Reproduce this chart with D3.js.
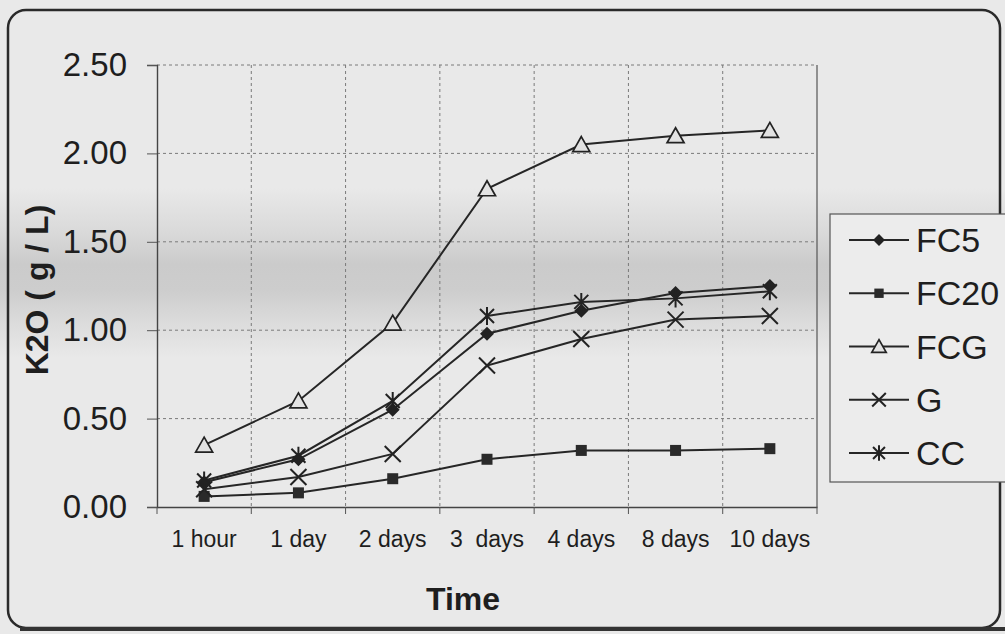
<!DOCTYPE html>
<html><head><meta charset="utf-8">
<script src="https://cdn.jsdelivr.net/npm/d3@7"></script>
<style>
html,body{margin:0;padding:0;background:#e9e9e9;}
svg{display:block;font-family:"Liberation Sans",Arial,sans-serif;}
</style></head>
<body>
<svg id="chart" width="1005" height="634"></svg>
<script>
const categories = ["1 hour","1 day","2 days","3  days","4 days","8 days","10 days"];
const FC5  = [0.14, 0.27, 0.55, 0.98, 1.11, 1.21, 1.25];
const FC20 = [0.06, 0.08, 0.16, 0.27, 0.32, 0.32, 0.33];
const FCG  = [0.35, 0.60, 1.04, 1.80, 2.05, 2.10, 2.13];
const G    = [0.10, 0.17, 0.30, 0.80, 0.95, 1.06, 1.08];
const CC   = [0.15, 0.29, 0.60, 1.08, 1.16, 1.18, 1.22];
const seriesNames = ["FC5","FC20","FCG","G","CC"];
const yTicks = [0, 0.5, 1.0, 1.5, 2.0, 2.5];
const yTitle = "K2O ( g / L)";
const xTitle = "Time";

(function(){
const series = [
  {name:"FC5", values:FC5, marker:"diamond"},
  {name:"FC20", values:FC20, marker:"square"},
  {name:"FCG", values:FCG, marker:"triangle"},
  {name:"G", values:G, marker:"x"},
  {name:"CC", values:CC, marker:"asterisk"}
];

const svg = d3.select("#chart");
const defs = svg.append("defs");
const grad = defs.append("linearGradient").attr("id","band").attr("x1",0).attr("y1",0).attr("x2",0).attr("y2",1);
[[0,"#e9e9e9"],[0.25,"#dadada"],[0.45,"#cbcbcb"],[0.6,"#cdcdcd"],[0.8,"#dcdcdc"],[1,"#e9e9e9"]]
  .forEach(([o,c])=>grad.append("stop").attr("offset",o).attr("stop-color",c));

svg.append("rect").attr("width",1005).attr("height",634).attr("fill","#e9e9e9");
svg.append("rect").attr("x",0).attr("y",188).attr("width",1005).attr("height",170).attr("fill","url(#band)");

// outer frame
svg.append("rect").attr("x",8).attr("y",10).attr("width",992).attr("height",618)
  .attr("rx",18).attr("fill","none").attr("stroke","#2a2a2a").attr("stroke-width",2.5);
svg.append("line").attr("x1",20).attr("x2",1005).attr("y1",629).attr("y2",629)
  .attr("stroke","#333").attr("stroke-width",4);

const pLeft = 157, pRight = 817, pTop = 65, pBottom = 507;
const x = d3.scaleBand().domain(categories).range([pLeft,pRight]);
const y = d3.scaleLinear().domain([0,2.5]).range([pBottom,pTop]);

// gridlines
const grid = svg.append("g").attr("stroke","#7a7a7a").attr("stroke-width",1).attr("stroke-dasharray","3,3");
grid.selectAll("line.h").data(yTicks.filter(d=>d>0)).join("line")
  .attr("x1",pLeft).attr("x2",pRight).attr("y1",d=>y(d)).attr("y2",d=>y(d));
grid.selectAll("line.v").data(categories.slice(1)).join("line")
  .attr("x1",d=>x(d)).attr("x2",d=>x(d)).attr("y1",pTop).attr("y2",pBottom);
// right border
svg.append("line").attr("x1",pRight).attr("x2",pRight).attr("y1",pTop).attr("y2",pBottom)
  .attr("stroke","#555").attr("stroke-width",1.2);

// y axis
const yAxis = svg.append("g").attr("transform",`translate(${pLeft},0)`)
  .call(d3.axisLeft(y).tickValues(yTicks).tickFormat(d3.format(".2f")).tickSize(10).tickPadding(20));
yAxis.select(".domain").attr("stroke","#444").attr("stroke-width",1.4);
yAxis.selectAll(".tick line").attr("stroke","#555");
yAxis.selectAll("text").attr("font-size",33).attr("fill","#1e1e1e")
  .attr("font-family","'Liberation Sans',Arial,sans-serif");

// x axis
const xAxis = svg.append("g").attr("transform",`translate(0,${pBottom})`)
  .call(d3.axisBottom(x).tickSize(0).tickPadding(24));
xAxis.select(".domain").attr("stroke","#444").attr("stroke-width",1.4);
xAxis.selectAll("text").attr("font-size",23).attr("fill","#1e1e1e").style("white-space","pre")
  .attr("font-family","'Liberation Sans',Arial,sans-serif");
xAxis.selectAll("line.bt").data(categories.concat(["end"])).join("line").attr("class","bt")
  .attr("x1",(d,i)=>pLeft+i*x.step()).attr("x2",(d,i)=>pLeft+i*x.step())
  .attr("y1",0).attr("y2",7).attr("stroke","#555");

// titles
svg.append("text").attr("x",463).attr("y",610).attr("text-anchor","middle")
  .attr("font-size",32).attr("font-weight","bold").attr("fill","#1e1e1e").text(xTitle);
svg.append("text").attr("transform","translate(48,290) rotate(-90)").attr("text-anchor","middle")
  .attr("font-size",32).attr("font-weight","bold").attr("fill","#1e1e1e").text(yTitle);

// marker drawing
function drawMarker(g, type, s){
  const stroke = "#222";
  if(type==="diamond"){
    g.append("path").attr("d",`M0,${-7*s}L${7*s},0L0,${7*s}L${-7*s},0Z`).attr("fill",stroke);
  } else if(type==="square"){
    g.append("rect").attr("x",-5.5*s).attr("y",-5.5*s).attr("width",11*s).attr("height",11*s).attr("fill","#2a2a2a");
  } else if(type==="triangle"){
    g.append("path").attr("d",`M0,${-8*s}L${8.5*s},${7*s}L${-8.5*s},${7*s}Z`)
      .attr("fill","#e2e2e2").attr("stroke",stroke).attr("stroke-width",1.7);
  } else if(type==="x"){
    g.append("path").attr("d",`M${-8*s},${-8*s}L${8*s},${8*s}M${-8*s},${8*s}L${8*s},${-8*s}`)
      .attr("stroke",stroke).attr("stroke-width",2);
  } else if(type==="asterisk"){
    g.append("path").attr("d",`M${-7*s},${-7*s}L${7*s},${7*s}M${-7*s},${7*s}L${7*s},${-7*s}M0,${-9*s}L0,${9*s}`)
      .attr("stroke",stroke).attr("stroke-width",2);
  }
}

const line = d3.line().x((d,i)=>x(categories[i])+x.bandwidth()/2).y(d=>y(d));
const plot = svg.append("g");
series.forEach(s=>{
  plot.append("path").attr("d",line(s.values)).attr("fill","none")
    .attr("stroke","#262626").attr("stroke-width",2);
});
series.forEach(s=>{
  s.values.forEach((v,i)=>{
    const g = plot.append("g").attr("transform",`translate(${x(categories[i])+x.bandwidth()/2},${y(v)})`);
    drawMarker(g, s.marker, 1);
  });
});

// legend
const lg = svg.append("g");
lg.append("rect").attr("x",830).attr("y",214).attr("width",190).attr("height",268)
  .attr("fill","#ececec").attr("stroke","#555").attr("stroke-width",1.2);
const ly = d3.scalePoint().domain(seriesNames).range([240,453]);
series.forEach(s=>{
  const yy = ly(s.name);
  lg.append("line").attr("x1",849).attr("x2",909).attr("y1",yy).attr("y2",yy)
    .attr("stroke","#262626").attr("stroke-width",2);
  const g = lg.append("g").attr("transform",`translate(879,${yy})`);
  drawMarker(g, s.marker, 0.85);
  lg.append("text").attr("x",916).attr("y",yy+12).attr("font-size",34).attr("fill","#1e1e1e").text(s.name);
});
})();
</script>
</body></html>
